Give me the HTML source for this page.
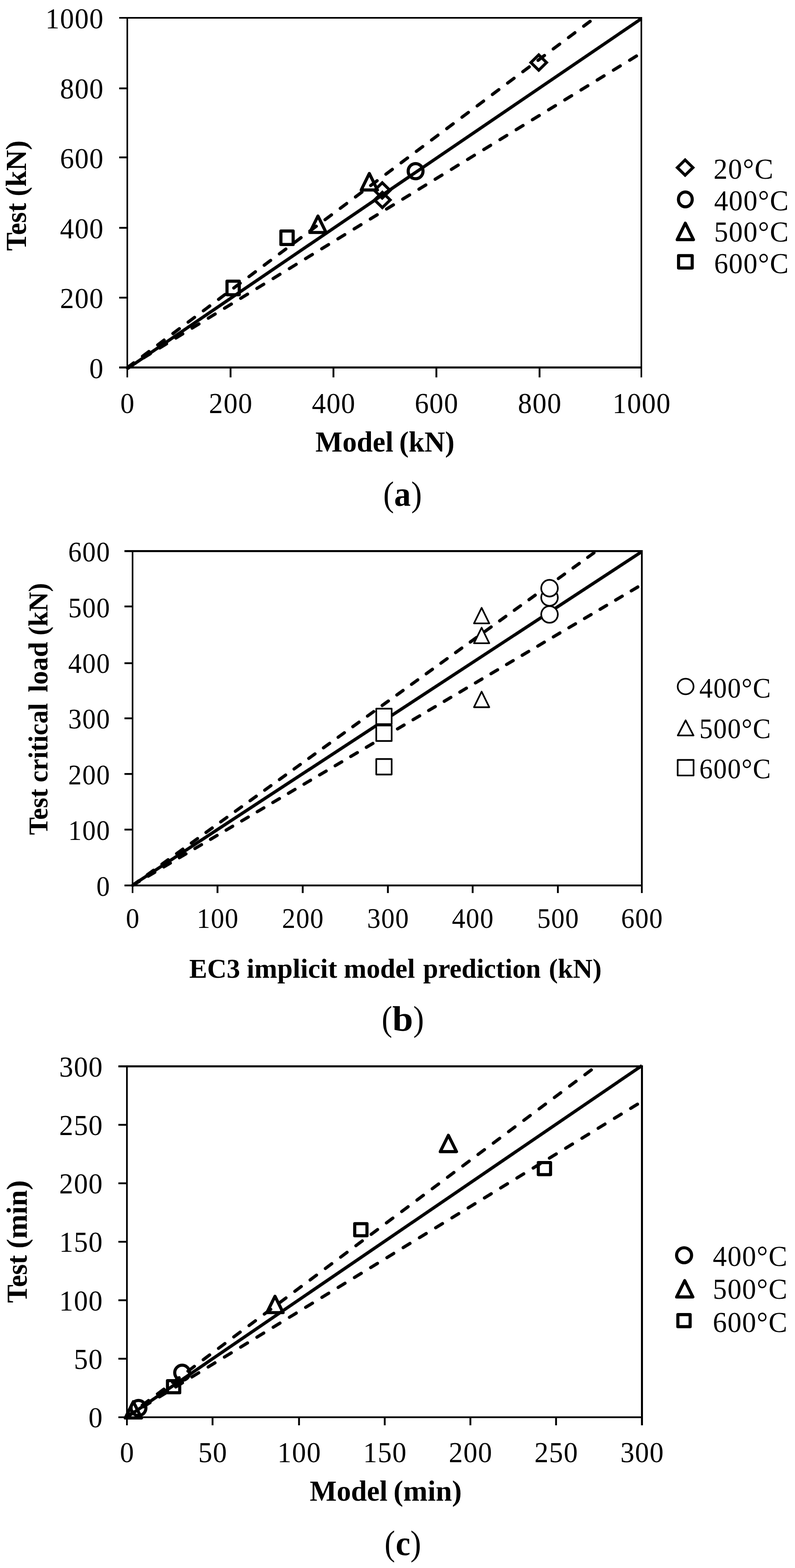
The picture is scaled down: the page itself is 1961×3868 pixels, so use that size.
<!DOCTYPE html>
<html lang="en"><head><meta charset="utf-8"><title>Model vs test comparison</title>
<style>html,body{margin:0;padding:0;background:#fff}body{width:1961px;height:3868px;overflow:hidden}svg{display:block}text{font-family:"Liberation Serif",serif;fill:#000}</style>
</head><body>
<svg width="1961" height="3868" viewBox="0 0 1961 3868">
<rect width="1961" height="3868" fill="#fff"/>
<g id="plot-a">
<path d="M294,42H1584V46H294ZM294,904H1584V909H294ZM312,42H316V931H312ZM1580,42H1584V931H1580ZM294,731.95H314V736.45H294ZM294,559.75H314V564.25H294ZM294,386.05H314V390.55H294ZM294,215.65H314V220.15H294ZM566.45,906.4H570.95V931H566.45ZM820.25,906.4H824.75V931H820.25ZM1074.15,906.4H1078.65V931H1074.15ZM1328.65,906.4H1333.15V931H1328.65Z" fill="#000"/>
<g font-size="72" text-anchor="end" letter-spacing="1.6">
<text transform="translate(256.34,932.7) scale(0.96,1)">0</text>
<text transform="translate(256.34,760.2) scale(0.96,1)">200</text>
<text transform="translate(256.34,587.7) scale(0.96,1)">400</text>
<text transform="translate(256.34,415.2) scale(0.96,1)">600</text>
<text transform="translate(256.34,242.7) scale(0.96,1)">800</text>
<text transform="translate(256.34,70.2) scale(0.96,1)">1000</text>
</g>
<g font-size="72" text-anchor="middle" letter-spacing="1.6">
<text transform="translate(314.77,1018.6) scale(0.96,1)">0</text>
<text transform="translate(569.47,1018.6) scale(0.96,1)">200</text>
<text transform="translate(823.27,1018.6) scale(0.96,1)">400</text>
<text transform="translate(1077.17,1018.6) scale(0.96,1)">600</text>
<text transform="translate(1331.67,1018.6) scale(0.96,1)">800</text>
<text transform="translate(1582.97,1018.6) scale(0.96,1)">1000</text>
</g>
<g fill="none" stroke="#000" stroke-width="7.9">
<path d="M314,909.5L1582.2,45.9"/>
<path d="M314,907L1466.91,44.2M314,907.3L1582.2,130.7" stroke-linecap="round" stroke-dasharray="19.7 27.17"/>
</g>
<g fill="none" stroke="#000" stroke-width="7.7" stroke-linejoin="round">
<g stroke-width="7.2">
<path d="M1328.9,135.4L1348.2,154.3L1328.9,173.2L1309.6,154.3Z" stroke-linejoin="miter"/>
<path d="M942.9,450.9L962.2,469.8L942.9,488.7L923.6,469.8Z" stroke-linejoin="miter"/>
<path d="M943.2,474.3L962.5,493.2L943.2,512.1L923.9,493.2Z" stroke-linejoin="miter"/>
<path d="M1690,394.5L1709.3,413.4L1690,432.3L1670.7,413.4Z" stroke-linejoin="miter"/>
</g>
<ellipse cx="1025.15" cy="422.25" rx="18.3" ry="18.7"/>
<ellipse cx="1690.5" cy="491.9" rx="17" ry="18.3"/>
<path d="M911,428L931,468.6L891,468.6Z"/>
<path d="M784.3,532.9L804.3,573.5L764.3,573.5Z"/>
<path d="M1690.45,550.6L1710.45,591.2L1670.45,591.2Z"/>
<rect x="692.9" y="569.8" width="30.2" height="33.4"/>
<rect x="559.95" y="693.7" width="30.2" height="33.4"/>
<rect x="1673.8" y="630.7" width="33.6" height="30.4"/>
</g>
<g font-size="72" letter-spacing="1.6">
<text transform="translate(1760,441) scale(0.96,1)">20°C</text>
<text transform="translate(1761.5,518.7) scale(0.96,1)">400°C</text>
<text transform="translate(1761.5,596.3) scale(0.96,1)">500°C</text>
<text transform="translate(1761.5,674) scale(0.96,1)">600°C</text>
</g>
<g font-size="72" font-weight="bold">
<text transform="translate(63.7,618.84) rotate(-90)" textLength="118.05" lengthAdjust="spacingAndGlyphs">Test</text>
<text transform="translate(63.7,484.51) rotate(-90)" textLength="138.1" lengthAdjust="spacingAndGlyphs">(kN)</text>
</g>
<g font-size="72" font-weight="bold">
<text x="777.97" y="1114.2" textLength="192.32" lengthAdjust="spacingAndGlyphs">Model</text>
<text x="984.73" y="1114.2" textLength="136.43" lengthAdjust="spacingAndGlyphs">(kN)</text>
</g>
<g font-size="86">
<text x="945.21" y="1248.1" textLength="26.69" lengthAdjust="spacingAndGlyphs">(</text>
<text x="972.28" y="1248.1" textLength="41.02" lengthAdjust="spacingAndGlyphs" font-weight="bold">a</text>
<text x="1014.26" y="1248.1" textLength="26.43" lengthAdjust="spacingAndGlyphs">)</text>
</g>
</g>
<g id="plot-b">
<path d="M307,1357H1585.4V1362H307ZM307,2182H1585.4V2186.4H307ZM325,1357H329V2203H325ZM1581,1357H1585.4V2203H1581ZM307,2044.35H327.1V2048.85H307ZM307,1906.95H327.1V1911.45H307ZM307,1769.75H327.1V1774.25H307ZM307,1633.75H327.1V1638.25H307ZM307,1493.75H327.1V1498.25H307ZM534.25,2184H538.75V2203H534.25ZM744.45,2184H748.95V2203H744.45ZM954.55,2184H959.05V2203H954.55ZM1163.65,2184H1168.15V2203H1163.65ZM1373.85,2184H1378.35V2203H1373.85Z" fill="#000"/>
<g font-size="69" text-anchor="end" letter-spacing="1.6">
<text transform="translate(272.34,2209.6) scale(0.96,1)">0</text>
<text transform="translate(272.34,2072.18) scale(0.96,1)">100</text>
<text transform="translate(272.34,1934.77) scale(0.96,1)">200</text>
<text transform="translate(272.34,1797.35) scale(0.96,1)">300</text>
<text transform="translate(272.34,1659.93) scale(0.96,1)">400</text>
<text transform="translate(272.34,1522.52) scale(0.96,1)">500</text>
<text transform="translate(272.34,1385.1) scale(0.96,1)">600</text>
</g>
<g font-size="69" text-anchor="middle" letter-spacing="1.6">
<text transform="translate(327.87,2289.3) scale(0.96,1)">0</text>
<text transform="translate(537.27,2289.3) scale(0.96,1)">100</text>
<text transform="translate(747.47,2289.3) scale(0.96,1)">200</text>
<text transform="translate(957.57,2289.3) scale(0.96,1)">300</text>
<text transform="translate(1166.67,2289.3) scale(0.96,1)">400</text>
<text transform="translate(1376.87,2289.3) scale(0.96,1)">500</text>
<text transform="translate(1583.97,2289.3) scale(0.96,1)">600</text>
</g>
<g fill="none" stroke="#000" stroke-width="7.9">
<path d="M327.1,2183.5L1583.2,1360.8"/>
<path d="M327.1,2184L1469.01,1361M327.1,2184L1583.2,1442.15" stroke-linecap="round" stroke-dasharray="18.8 25.84"/>
</g>
<g fill="#fff" stroke="#000" stroke-width="4.1" stroke-linejoin="round">
<ellipse cx="1355.5" cy="1474" rx="20.5" ry="20.6"/>
<ellipse cx="1355.5" cy="1451" rx="20.5" ry="20.6"/>
<ellipse cx="1355.5" cy="1515.7" rx="20.5" ry="20.6"/>
<path d="M1188,1499.4L1206.9,1537.8L1169.1,1537.8Z"/>
<path d="M1188,1548.4L1206.9,1586.8L1169.1,1586.8Z"/>
<path d="M1188,1706.2L1206.9,1744.6L1169.1,1744.6Z"/>
<rect x="928.1" y="1748.1" width="38" height="38.2"/>
<rect x="928.1" y="1789.7" width="38" height="38.2"/>
<rect x="928.1" y="1872.4" width="38" height="38.2"/>
<ellipse cx="1691.2" cy="1693.5" rx="19.6" ry="19.3"/>
<path d="M1691.2,1777L1710.6,1814.2L1671.8,1814.2Z"/>
<rect x="1671.6" y="1874.6" width="39.2" height="38.4"/>
</g>
<g font-size="69" letter-spacing="1.6">
<text transform="translate(1725.1,1721.3) scale(0.96,1)">400°C</text>
<text transform="translate(1725.1,1820.5) scale(0.96,1)">500°C</text>
<text transform="translate(1725.1,1920.3) scale(0.96,1)">600°C</text>
</g>
<g font-size="68" font-weight="bold">
<text transform="translate(116.7,2059.76) rotate(-90)" textLength="113.85" lengthAdjust="spacingAndGlyphs">Test</text>
<text transform="translate(116.7,1930.06) rotate(-90)" textLength="195.74" lengthAdjust="spacingAndGlyphs">critical</text>
<text transform="translate(116.7,1707.75) rotate(-90)" textLength="124.36" lengthAdjust="spacingAndGlyphs">load</text>
<text transform="translate(116.7,1567.84) rotate(-90)" textLength="129.76" lengthAdjust="spacingAndGlyphs">(kN)</text>
</g>
<g font-size="68" font-weight="bold">
<text x="466.68" y="2411.5" textLength="125.59" lengthAdjust="spacingAndGlyphs">EC3</text>
<text x="608.4" y="2411.5" textLength="223.27" lengthAdjust="spacingAndGlyphs">implicit</text>
<text x="848.07" y="2411.5" textLength="175.56" lengthAdjust="spacingAndGlyphs">model</text>
<text x="1043.77" y="2411.5" textLength="290.28" lengthAdjust="spacingAndGlyphs">prediction</text>
<text x="1353.75" y="2411.5" textLength="130.18" lengthAdjust="spacingAndGlyphs">(kN)</text>
</g>
<g font-size="86">
<text x="941.59" y="2542.1" textLength="26.04" lengthAdjust="spacingAndGlyphs">(</text>
<text x="967.73" y="2542.1" textLength="51.2" lengthAdjust="spacingAndGlyphs" font-weight="bold">b</text>
<text x="1019.35" y="2542.1" textLength="26.56" lengthAdjust="spacingAndGlyphs">)</text>
</g>
</g>
<g id="plot-c">
<path d="M292,2628H1586V2633H292ZM292,3494H1586V3498.3H292ZM311,2628H315.2V3516H311ZM1581,2628H1586V3516H1581ZM292,3349.5H313.1V3354H292ZM292,3205.25H313.1V3209.75H292ZM292,3061H313.1V3065.5H292ZM292,2916.75H313.1V2921.25H292ZM292,2772.5H313.1V2777H292ZM522.05,3496H526.55V3516H522.05ZM735.35,3496H739.85V3516H735.35ZM946.75,3496H951.25V3516H946.75ZM1158.05,3496H1162.55V3516H1158.05ZM1369.35,3496H1373.85V3516H1369.35Z" fill="#000"/>
<g font-size="72" text-anchor="end" letter-spacing="1.6">
<text transform="translate(254.34,3521.1) scale(0.96,1)">0</text>
<text transform="translate(254.34,3376.85) scale(0.96,1)">50</text>
<text transform="translate(254.34,3232.6) scale(0.96,1)">100</text>
<text transform="translate(254.34,3088.35) scale(0.96,1)">150</text>
<text transform="translate(254.34,2944.1) scale(0.96,1)">200</text>
<text transform="translate(254.34,2799.85) scale(0.96,1)">250</text>
<text transform="translate(254.34,2655.6) scale(0.96,1)">300</text>
</g>
<g font-size="72" text-anchor="middle" letter-spacing="1.6">
<text transform="translate(313.87,3606.6) scale(0.96,1)">0</text>
<text transform="translate(525.07,3606.6) scale(0.96,1)">50</text>
<text transform="translate(738.37,3606.6) scale(0.96,1)">100</text>
<text transform="translate(949.77,3606.6) scale(0.96,1)">150</text>
<text transform="translate(1161.07,3606.6) scale(0.96,1)">200</text>
<text transform="translate(1372.37,3606.6) scale(0.96,1)">250</text>
<text transform="translate(1584.27,3606.6) scale(0.96,1)">300</text>
</g>
<g fill="none" stroke="#000" stroke-width="7.9">
<path d="M313.1,3496.1L1583.5,2628.7"/>
<path d="M313.1,3494.8L1468.01,2632.2M313.1,3494.9L1583.5,2717.15" stroke-linecap="round" stroke-dasharray="19.6 27.4"/>
</g>
<g fill="none" stroke="#000" stroke-width="7.7" stroke-linejoin="round">
<ellipse cx="449.3" cy="3386.3" rx="18.3" ry="18.6"/>
<ellipse cx="341.6" cy="3473.3" rx="18.3" ry="18.6"/>
<ellipse cx="1687.4" cy="3096.5" rx="18.5" ry="18.5"/>
<path d="M1106,2800.6L1126,2840.9L1086,2840.9Z"/>
<path d="M678.3,3197.7L698.3,3238L658.3,3238Z"/>
<path d="M328.9,3457.7L348.9,3498L308.9,3498Z"/>
<path d="M1689,3159.1L1709,3199.4L1669,3199.4Z"/>
<rect x="1327.8" y="2867.8" width="30.2" height="29.8"/>
<rect x="875" y="3018.6" width="30.2" height="29.8"/>
<rect x="413.1" y="3405.9" width="30.2" height="29.8"/>
<rect x="1672.1" y="3242.9" width="30.2" height="29.8"/>
</g>
<g font-size="72" letter-spacing="1.6">
<text transform="translate(1758.3,3123.4) scale(0.96,1)">400°C</text>
<text transform="translate(1758.3,3204.4) scale(0.96,1)">500°C</text>
<text transform="translate(1758.3,3285.8) scale(0.96,1)">600°C</text>
</g>
<g font-size="72" font-weight="bold">
<text transform="translate(65.8,3213.94) rotate(-90)" textLength="117.75" lengthAdjust="spacingAndGlyphs">Test</text>
<text transform="translate(65.8,3080.06) rotate(-90)" textLength="168.6" lengthAdjust="spacingAndGlyphs">(min)</text>
</g>
<g font-size="72" font-weight="bold">
<text x="763.88" y="3702.3" textLength="191.91" lengthAdjust="spacingAndGlyphs">Model</text>
<text x="970.44" y="3702.3" textLength="168.5" lengthAdjust="spacingAndGlyphs">(min)</text>
</g>
<g font-size="86">
<text x="948.47" y="3836" textLength="26.17" lengthAdjust="spacingAndGlyphs">(</text>
<text x="976.05" y="3836" textLength="36.21" lengthAdjust="spacingAndGlyphs" font-weight="bold">c</text>
<text x="1012.25" y="3836" textLength="26.56" lengthAdjust="spacingAndGlyphs">)</text>
</g>
</g>
</svg></body></html>
